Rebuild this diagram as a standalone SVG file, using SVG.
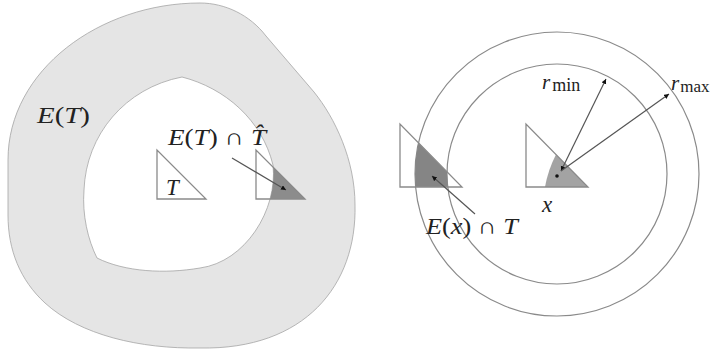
<svg xmlns="http://www.w3.org/2000/svg" width="717" height="354" viewBox="0 0 717 354">
<style>
.tri{fill:none;stroke:#8a8a8a;stroke-width:1.3}
.circ{fill:none;stroke:#8a8a8a;stroke-width:1.2}
.lbl{font-family:"Liberation Serif","DejaVu Serif",serif;fill:#222}
.it{font-style:italic}
.ln{stroke:#555;stroke-width:1.2;fill:none}
</style>
<defs>
<marker id="ah" markerWidth="6" markerHeight="6" refX="5" refY="2.5" orient="auto-start-reverse" markerUnits="userSpaceOnUse">
<path d="M0,0 L5,2.5 L0,5 Z" fill="#111"/>
</marker>
<clipPath id="ringL">
<path clip-rule="evenodd" d="M200,3 C225,3 250,15 266,36 L314,92 C335,118 355,160 355,205 C357,285 305,350 200,348 C140,349 80,335 45,303 C20,280 8,250 8,215 L8,160 C8,70 100,3 200,3 Z M182,77 C225,88 262,120 273,165 C278,210 245,262 200,268 C165,274 125,272 97,258 C88,240 82,215 84,190 C86,135 125,88 182,77 Z"/>
</clipPath>
<clipPath id="ringR">
<path clip-rule="evenodd" d="M415,174 A142,142 0 1,0 699,174 A142,142 0 1,0 415,174 Z M447,174 A110,110 0 1,0 667,174 A110,110 0 1,0 447,174 Z"/>
</clipPath>
</defs>
<rect width="717" height="354" fill="#fff"/>

<g id="region-ET">
<path fill="#e5e5e5" fill-rule="evenodd" stroke="#a5a5a5" stroke-width="0.8" d="M200,3 C225,3 250,15 266,36 L314,92 C335,118 355,160 355,205 C357,285 305,350 200,348 C140,349 80,335 45,303 C20,280 8,250 8,215 L8,160 C8,70 100,3 200,3 Z M182,77 C225,88 262,120 273,165 C278,210 245,262 200,268 C165,274 125,272 97,258 C88,240 82,215 84,190 C86,135 125,88 182,77 Z"/>
</g>

<g id="tri-T">
<path class="tri" d="M157,150 L157,199 L206,199 Z"/>
</g>

<g id="tri-That">
<path d="M256,150 L256,199 L305,199 Z" fill="#8c8c8c" clip-path="url(#ringL)"/>
<path class="tri" d="M256,150 L256,199 L305,199 Z"/>
</g>

<g id="circles">
<circle class="circ" cx="557" cy="174" r="142"/>
<circle class="circ" cx="557" cy="174" r="110"/>
</g>

<g id="tri-left">
<path d="M400,124 L400,187 L462,187 Z" fill="#858585" clip-path="url(#ringR)"/>
<path class="tri" d="M400,124 L400,187 L462,187 Z"/>
</g>

<g id="tri-x">
<path d="M545,187 Q548,170 556,154.5 L588,187 Z" fill="#a3a3a3"/>
<path class="tri" d="M526,124 L526,187 L588,187 Z"/>
<circle cx="557" cy="176" r="1.8" fill="#111"/>
</g>

<g id="connectors">
<line class="ln" x1="232" y1="158" x2="286" y2="190" marker-end="url(#ah)"/>
<line class="ln" x1="475" y1="214" x2="432" y2="176" marker-end="url(#ah)"/>
<line class="ln" x1="561" y1="171" x2="606" y2="79" marker-start="url(#ah)" marker-end="url(#ah)"/>
<line class="ln" x1="561" y1="171" x2="669" y2="94" marker-end="url(#ah)"/>
</g>

<g id="labels">
<text class="lbl" x="37" y="123" font-size="23" textLength="53" lengthAdjust="spacingAndGlyphs"><tspan class="it">E</tspan>(<tspan class="it">T</tspan>)</text>
<text class="lbl" x="168" y="145" font-size="23" textLength="98" lengthAdjust="spacingAndGlyphs"><tspan class="it">E</tspan>(<tspan class="it">T</tspan>) ∩ <tspan class="it">T̂</tspan></text>
<text class="lbl it" x="166" y="195" font-size="23">T</text>
<text class="lbl" x="542" y="89" font-size="21"><tspan class="it">r</tspan><tspan dx="2" dy="2" font-size="18">min</tspan></text>
<text class="lbl" x="671" y="90" font-size="21"><tspan class="it">r</tspan><tspan dx="1" dy="2" font-size="17">max</tspan></text>
<text class="lbl it" x="542" y="212" font-size="23">x</text>
<text class="lbl" x="426" y="234" font-size="23" textLength="92" lengthAdjust="spacingAndGlyphs"><tspan class="it">E</tspan>(<tspan class="it">x</tspan>) ∩ <tspan class="it">T</tspan></text>
</g>
</svg>
